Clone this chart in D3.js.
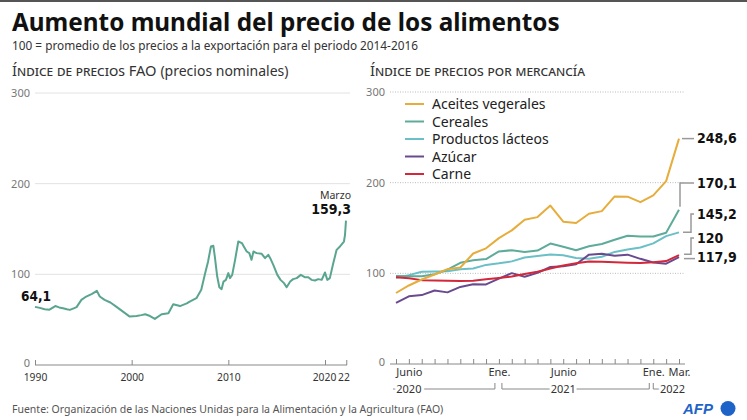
<!DOCTYPE html>
<html><head><meta charset="utf-8">
<script src="https://cdn.jsdelivr.net/npm/d3@7"></script>
<style>
body{margin:0;background:#fff;}
svg{display:block;font-family:"Noto Sans","Open Sans",sans-serif;}
.val{font-family:"DejaVu Sans",sans-serif;font-stretch:condensed;font-weight:bold;}
</style></head><body>
<svg id="c" width="747" height="420"></svg>
<script>
// ---------- DATA ----------
const faoYears = [1990.0,1990.5,1991.0,1991.5,1992.1,1992.5,1992.9,1993.3,1993.6,1994.0,1994.3,1994.8,1995.3,1995.9,1996.4,1996.7,1997.2,1997.8,1998.4,1999.1,1999.8,2000.5,2001.0,2001.4,2001.9,2002.4,2003.1,2003.8,2004.3,2005.0,2005.7,2006.0,2006.7,2007.2,2007.6,2007.9,2008.2,2008.45,2008.6,2008.85,2009.07,2009.3,2009.5,2009.75,2010.0,2010.17,2010.4,2010.7,2011.03,2011.4,2011.6,2011.9,2012.17,2012.4,2012.6,2012.93,2013.45,2013.8,2014.13,2014.38,2014.65,2015.07,2015.4,2015.76,2016.03,2016.4,2016.7,2017.07,2017.5,2017.9,2018.27,2018.6,2018.97,2019.3,2019.66,2020.0,2020.24,2020.5,2020.86,2021.2,2021.55,2021.83,2021.96,2022.07,2022.17];
const faoValues = [64.1,63.0,61.5,61.0,65.0,63.5,62.6,61.5,60.8,62.5,63.8,71.8,75.5,78.5,81.8,75.5,71.8,68.9,64.4,58.9,53.4,54.0,55.0,56.0,54.0,50.8,56.0,57.0,67.0,65.0,68.0,70.0,73.7,82.9,101.3,114.0,130.7,131.5,119.7,97.6,85.8,83.6,92.0,93.9,101.3,95.8,99.4,116.0,136.2,134.5,130.7,125.2,123.4,116.0,125.2,123.4,122.6,117.9,121.5,116.8,110.5,99.4,93.9,90.3,85.8,92.0,94.7,95.8,99.4,96.9,96.9,93.9,93.2,94.7,93.9,102.0,93.9,95.8,112.4,127.0,130.7,134.5,136.2,143.6,159.3];
const leftTickYears = [1990, 2000, 2010, 2020, 2022.2];
const leftTickLabels = ["1990", "2000", "2010", "2020", "22"];
const yTicks = [0, 100, 200, 300];

const months = ["May","Jun","Jul","Ago","Sep","Oct","Nov","Dic","Ene","Feb","Mar","Abr","May","Jun","Jul","Ago","Sep","Oct","Nov","Dic","Ene","Feb","Mar"];
const monthTickLabels = ["","Junio","","","","","","","Ene.","","","","","Junio","","","","","","","Ene.","","Mar."];
const seriesNames = ["Aceites vegerales","Cereales","Productos lácteos","Azúcar","Carne"];
const seriesColors = ["#e6ad3c","#5eab9a","#6bbfc6","#6a4a8e","#d3273a"];
const aceites = [78.3,86.6,93.2,98.7,104.6,106.4,121.9,127.6,138.8,147.4,159.2,162.0,174.7,157.0,155.5,165.7,168.6,184.8,184.6,178.5,185.9,201.7,248.6];
const cereales = [97.0,96.9,96.9,99.0,104.0,111.6,114.4,115.7,124.2,125.5,123.6,125.1,132.8,129.3,125.5,129.9,132.4,137.1,141.5,140.7,140.6,144.8,170.1];
const lacteos = [95.0,98.0,101.8,102.0,102.3,104.5,105.3,109.3,111.0,113.2,117.4,119.0,120.8,119.9,116.8,116.2,118.3,123.6,126.4,128.5,133.0,141.0,145.2];
const azucar = [67.5,74.6,76.0,81.1,79.0,85.0,87.9,87.8,94.2,100.2,96.2,100.5,107.0,107.7,110.0,120.6,121.5,119.5,120.6,116.0,112.0,110.6,117.9];
const carne = [95.8,94.5,92.5,92.0,91.8,91.5,91.7,93.6,94.9,96.4,99.2,101.8,105.3,108.7,111.2,113.0,112.8,112.1,111.7,111.4,112.1,113.5,120.0];
const seriesValues = [aceites, cereales, lacteos, azucar, carne];
const endLabels = ["248,6","170,1","145,2","117,9","120"];
const yearLabels = ["2020","2021","2022"];
const yearStart = [0, 8, 20];
const yearEnd = [7, 19, 22];
const yearLabelAt = [1, 13, 21.5];

// ---------- DRAW ----------
const svg = d3.select("#c");
const txt = "#222";

svg.append("rect").attr("x",0).attr("y",0).attr("width",747).attr("height",2).attr("fill","#555");

svg.append("text").attr("x",12).attr("y",31).attr("font-size",24.3).attr("font-weight","bold").attr("fill","#111")
  .text("Aumento mundial del precio de los alimentos");
svg.append("text").attr("x",12).attr("y",50).attr("font-size",11.8).attr("fill","#333")
  .text("100 = promedio de los precios a la exportación para el periodo 2014-2016");

const t1 = svg.append("text").attr("x",12).attr("y",76).attr("font-size",14.7).attr("fill","#333");
t1.append("tspan").style("font-variant","small-caps").text("Índice de precios ");
t1.append("tspan").text("FAO ");
t1.append("tspan").attr("font-size",14).text("(precios nominales)");
svg.append("text").attr("x",370).attr("y",76).attr("font-size",14.8).attr("fill","#333")
  .style("font-variant","small-caps").text("Índice de precios por mercancía");

// ----- left chart -----
const xL = d3.scaleLinear().domain([1990, 2020]).range([35, 325]);
const yL = d3.scaleLinear().domain([0, 300]).range([365, 93]);
const gL = svg.append("g");
gL.selectAll("line.grid").data(yTicks.filter(d=>d>0)).join("line")
  .attr("x1",35).attr("x2",350).attr("y1",d=>yL(d)).attr("y2",d=>yL(d))
  .attr("stroke","#e2e2e2").attr("stroke-width",1);
gL.selectAll("text.yl").data(yTicks).join("text")
  .attr("x",30).attr("y",d=>yL(d)+(d===0?2:4)).attr("text-anchor","end")
  .attr("font-size",11).attr("fill","#777").text(d=>d);
const axL = d3.axisBottom(xL).tickValues(leftTickYears).tickSize(-5).tickPadding(9)
  .tickFormat((d,i)=>leftTickLabels[i]);
const gax = gL.append("g").attr("transform","translate(0,365)").call(axL);
gax.select(".domain").attr("d","M35,0H347").attr("stroke","#888");
gax.selectAll(".tick line").attr("stroke","#888");
gax.selectAll(".tick text").attr("font-size",10.3).attr("fill","#333").attr("font-family","Noto Sans");
gax.selectAll(".tick text").filter((d,i)=>i===4).attr("text-anchor","end").attr("dx",3);
gax.selectAll(".tick text").filter((d,i)=>i===3).attr("dx",-1);

const lineL = d3.line().x((d,i)=>xL(faoYears[i])).y(d=>yL(d)).curve(d3.curveLinear);
gL.append("path").datum(faoValues).attr("d",lineL).attr("fill","none")
  .attr("stroke","#5aa590").attr("stroke-width",2).attr("stroke-linejoin","round");
gL.append("text").attr("class","val").attr("x",21).attr("y",yL(faoValues[0])-6)
  .attr("font-size",13.5).attr("fill","#111").text("64,1");
gL.append("text").attr("x",351).attr("y",199).attr("text-anchor","end")
  .attr("font-size",10.5).attr("fill","#333").text("Marzo");
gL.append("text").attr("class","val").attr("x",351).attr("y",214).attr("text-anchor","end")
  .attr("font-size",14).attr("fill","#111").text("159,3");

// ----- right chart -----
const xR = d3.scaleLinear().domain([0, 22]).range([396, 679]);
const yR = d3.scaleLinear().domain([0, 300]).range([364, 92]);
const gR = svg.append("g");
gR.selectAll("line.grid").data(yTicks.filter(d=>d>0)).join("line")
  .attr("x1",390).attr("x2",685).attr("y1",d=>yR(d)).attr("y2",d=>yR(d))
  .attr("stroke","#bbb").attr("stroke-width",1).attr("stroke-dasharray","1,1.5");
gR.selectAll("text.yl").data(yTicks).join("text")
  .attr("x",385).attr("y",d=>yR(d)+(d===0?2:4)).attr("text-anchor","end")
  .attr("font-size",11).attr("fill","#777").text(d=>d);
const axR = d3.axisBottom(xR).tickValues(d3.range(months.length)).tickSize(-5).tickPadding(4)
  .tickFormat((d,i)=>monthTickLabels[i]);
const gax2 = gR.append("g").attr("transform","translate(0,364)").call(axR);
gax2.select(".domain").attr("d","M390,0H685").attr("stroke","#888");
gax2.selectAll(".tick line").attr("stroke","#888");
gax2.selectAll(".tick text").attr("font-size",11).attr("fill","#333").attr("font-family","Noto Sans");

// year brackets
const by = 389;
const gy = gR.append("g").attr("stroke","#888").attr("fill","none").attr("stroke-width",1);
yearLabels.forEach((lab,i)=>{
  const x0 = i===0 ? xR(yearStart[i])-3 : xR(yearStart[i]) + (i===1?3:0);
  const x1 = i===yearLabels.length-1 ? xR(yearLabelAt[i]) : xR(yearEnd[i]+1)-4;
  let d = (i===0 ? "M"+x0+","+by : "M"+x0+","+(by-6)+"V"+by) + "H"+x1;
  if (i<yearLabels.length-1) d += "V"+(by-6);
  gy.append("path").attr("d",d);
  gR.append("text").attr("x",xR(yearLabelAt[i])).attr("y",by+4).attr("text-anchor","middle")
    .attr("font-size",11).attr("fill","#333").attr("stroke","#fff").attr("stroke-width",6)
    .attr("paint-order","stroke").text(lab);
});

const lineR = d3.line().x((d,i)=>xR(i)).y(d=>yR(d));
// draw order: lácteos, cereales, azúcar, carne, aceites
[2,1,3,4,0].forEach(k=>{
  gR.append("path").datum(seriesValues[k]).attr("d",lineR).attr("fill","none")
    .attr("stroke",seriesColors[k]).attr("stroke-width",2).attr("stroke-linejoin","round");
});

// legend
seriesNames.forEach((n,i)=>{
  const ly = 104 + i*17.5;
  gR.append("line").attr("x1",405).attr("x2",424).attr("y1",ly).attr("y2",ly)
    .attr("stroke",seriesColors[i]).attr("stroke-width",2);
  gR.append("text").attr("x",432).attr("y",ly+5).attr("font-size",14).attr("fill",txt).text(n);
});

// end labels
const last = seriesValues.map(s=>s[s.length-1]);
const xe = xR(22);
const labelY = [138, 183, 214, 257, 238];
const conn = [
  `M${xe+3},${yR(last[0])}H${xe+15}`,
  `M${xe+1},${yR(last[1])-3}V${labelY[1]}H${xe+15}`,
  `M${xe+4},${yR(last[2])}H${xe+12}V${labelY[2]}H${xe+15}`,
  `M${xe+5},${yR(last[3])+1.5}H${xe+16}`,
  `M${xe+5},${yR(last[4])-1}H${xe+12}V${labelY[4]}H${xe+15}`
];
conn.forEach(d=>gR.append("path").attr("d",d).attr("fill","none").attr("stroke","#999").attr("stroke-width",1.5));
endLabels.forEach((l,i)=>{
  gR.append("text").attr("class","val").attr("x",697).attr("y",labelY[i]+5)
    .attr("font-size",14).attr("fill","#111").text(l);
});

// footer
svg.append("text").attr("x",12).attr("y",413).attr("font-size",10.5).attr("fill","#555")
  .text("Fuente: Organización de las Naciones Unidas para la Alimentación y la Agricultura (FAO)");
svg.append("text").attr("x",683).attr("y",414).attr("font-size",15).attr("font-weight","bold")
  .attr("font-style","italic").attr("fill","#1e63c8").attr("font-family","Liberation Sans")
  .text("AFP");
svg.append("circle").attr("cx",728).attr("cy",408.5).attr("r",7.5).attr("fill","#1e63c8");
</script></body></html>
